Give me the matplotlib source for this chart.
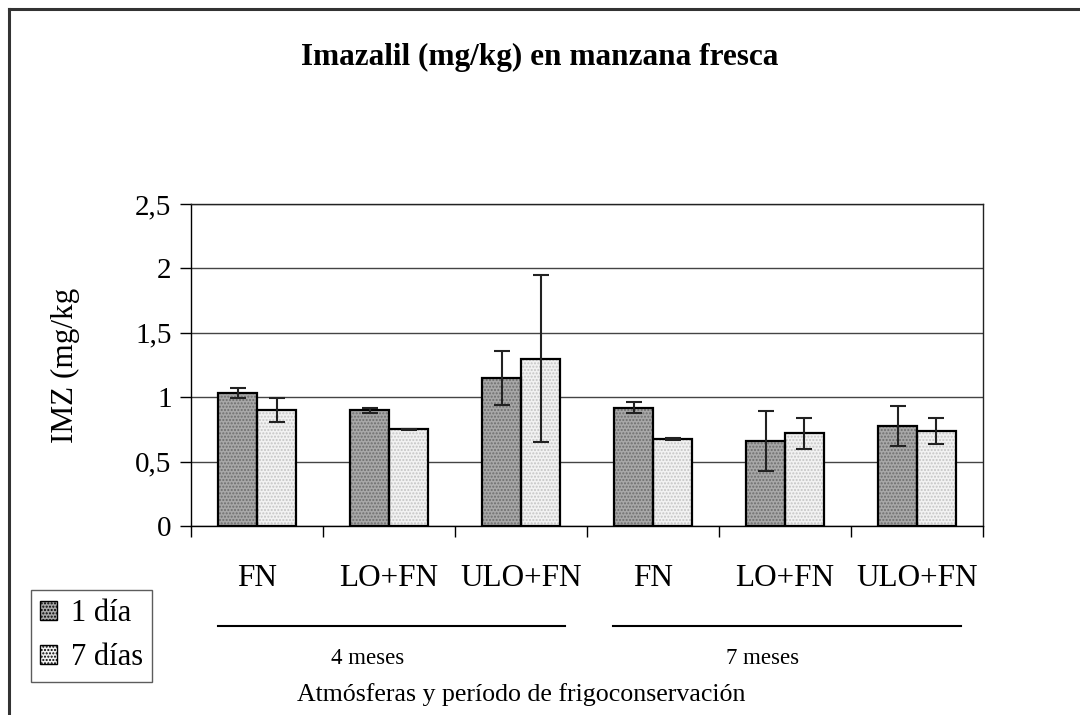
import numpy as np
import matplotlib
matplotlib.use("Agg")
import matplotlib.pyplot as plt
from matplotlib.lines import Line2D

plt.rcParams['font.family'] = ['Liberation Serif', 'DejaVu Serif']
plt.rcParams['hatch.linewidth'] = 1.0

# data
categories = ["FN", "LO+FN", "ULO+FN", "FN", "LO+FN", "ULO+FN"]
dia1 = [1.03, 0.90, 1.15, 0.92, 0.66, 0.78]
dia1_err = [0.04, 0.02, 0.21, 0.045, 0.23, 0.155]
dia7 = [0.90, 0.75, 1.30, 0.675, 0.72, 0.74]
dia7_err = [0.095, 0.005, 0.65, 0.005, 0.12, 0.10]
periods = ["4 meses", "7 meses"]
yticks = [0, 0.5, 1, 1.5, 2, 2.5]
ytick_labels = ["0", "0,5", "1", "1,5", "2", "2,5"]

fig = plt.figure(figsize=(10.8, 7.15), dpi=100)
ax = fig.add_axes([0.1769, 0.2643, 0.7333, 0.4504])

x = np.arange(len(categories))
w = 0.295

# 1. bars with dotted texture, then outlines
ax.bar(x - w / 2, dia1, w, color='#a8a8a8', edgecolor='#6e6e6e', hatch='.....', linewidth=0, zorder=3)
ax.bar(x + w / 2, dia7, w, color='#f2f2f2', edgecolor='#c4c4c4', hatch='.....', linewidth=0, zorder=3)
ax.bar(x - w / 2, dia1, w, fill=False, edgecolor='black', linewidth=1.6, zorder=4)
ax.bar(x + w / 2, dia7, w, fill=False, edgecolor='black', linewidth=1.6, zorder=4)

ax.errorbar(x - w / 2, dia1, yerr=dia1_err, fmt='none', ecolor='#222222', elinewidth=1.5, capsize=6, capthick=1.5, zorder=5)
ax.errorbar(x + w / 2, dia7, yerr=dia7_err, fmt='none', ecolor='#222222', elinewidth=1.5, capsize=6, capthick=1.5, zorder=5)

# 2. axes
ax.set_xlim(-0.5, 5.5)
ax.set_ylim(0, 2.5)
ax.set_yticks(yticks)
ax.set_yticklabels(ytick_labels, fontsize=21)
ax.yaxis.grid(True, color='#444444', linewidth=1.0, zorder=0)
ax.set_axisbelow(True)
ax.set_xticks(np.arange(-0.5, 6, 1))
ax.set_xticklabels([])
ax.set_xticks(x, minor=True)
ax.set_xticklabels(categories, minor=True, fontsize=22.5)
ax.tick_params(axis='x', which='minor', length=0, pad=27)
ax.tick_params(axis='x', which='major', direction='out', length=8, width=1)
ax.tick_params(axis='y', direction='out', length=8, width=1, pad=6)
for s in ax.spines.values():
    s.set_linewidth(1.0)
    s.set_color('#222222')
ax.spines['left'].set_color('black')
ax.spines['bottom'].set_color('black')
ax.set_ylabel("IMZ (mg/kg", fontsize=22.5, labelpad=40)

# 3. period lines + labels under the categories
trans = ax.get_xaxis_transform()
ax.plot([-0.295, 2.33], [-0.311, -0.311], color='black', lw=1.5, transform=trans, clip_on=False)
ax.plot([2.70, 5.33], [-0.311, -0.311], color='black', lw=1.5, transform=trans, clip_on=False)
ax.text(0.84, -0.41, periods[0], transform=trans, ha='center', va='center', fontsize=16.5)
ax.text(3.83, -0.41, periods[1], transform=trans, ha='center', va='center', fontsize=16.5)

fig.text(521 / 1080, 1 - 695 / 715, "Atmósferas y período de frigoconservación",
         ha='center', va='center', fontsize=18.6)
fig.text(0.5, 1 - 57 / 715, "Imazalil (mg/kg) en manzana fresca",
         ha='center', va='center', fontsize=22.5, fontweight='bold')

# 4. legend
handles = [plt.Rectangle((0, 0), 1, 1, facecolor='#a8a8a8', edgecolor='black', hatch='.....'),
           plt.Rectangle((0, 0), 1, 1, facecolor='#f2f2f2', edgecolor='black', hatch='.....')]
leg = fig.legend(handles, ["1 día", "7 días"], loc='upper left',
                 bbox_to_anchor=(31 / 1080, 1 - 590 / 715), fontsize=22,
                 frameon=True, fancybox=False, handlelength=0.55, handleheight=0.55,
                 handletextpad=0.45, borderpad=0.3, labelspacing=0.5, borderaxespad=0)
leg.get_frame().set_edgecolor('#333333')
leg.get_frame().set_linewidth(1.0)

# 5. outer frame (top and left only)
fig.add_artist(Line2D([9 / 1080, 1], [1 - 9 / 715, 1 - 9 / 715], color='#333333', lw=2.2))
fig.add_artist(Line2D([9 / 1080, 9 / 1080], [0, 1 - 9 / 715], color='#333333', lw=2.2))

fig.savefig("out.png", dpi=100)
